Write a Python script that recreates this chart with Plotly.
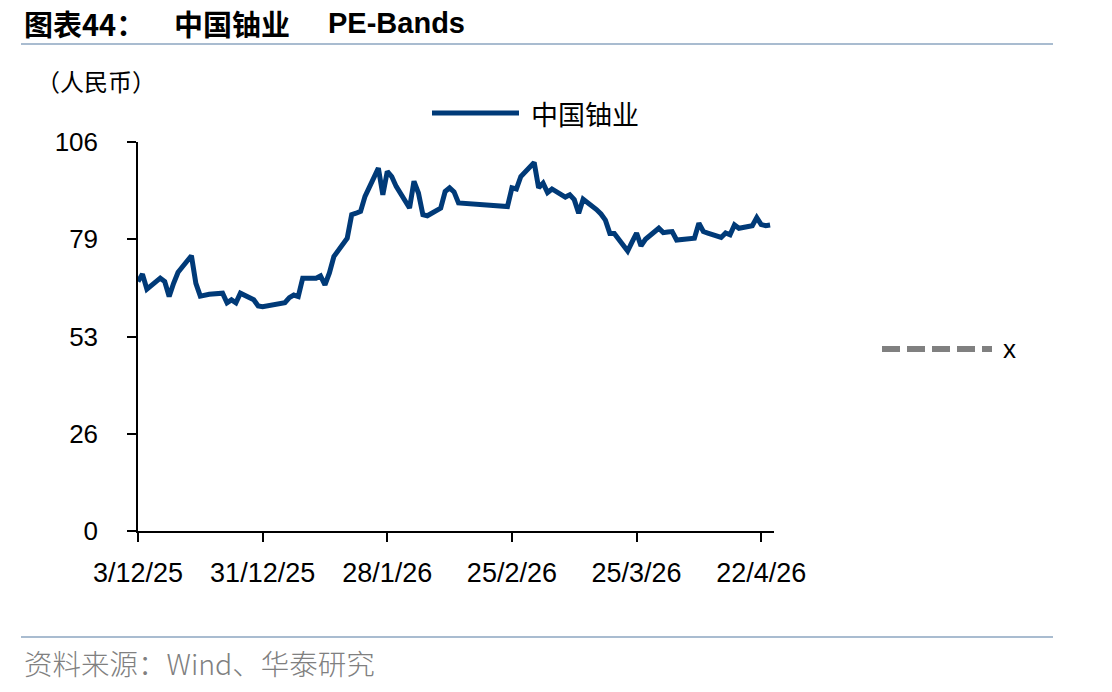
import plotly.graph_objects as go

# ---------------- data ----------------
dates = [
    "2025-12-03", "2025-12-04", "2025-12-05", "2025-12-08", "2025-12-09", "2025-12-10",
    "2025-12-11", "2025-12-12", "2025-12-15", "2025-12-16", "2025-12-17", "2025-12-18",
    "2025-12-19", "2025-12-22", "2025-12-23", "2025-12-24", "2025-12-25", "2025-12-26",
    "2025-12-29", "2025-12-30", "2025-12-31", "2026-01-05", "2026-01-06", "2026-01-07",
    "2026-01-08", "2026-01-09", "2026-01-12", "2026-01-13", "2026-01-14", "2026-01-15",
    "2026-01-16", "2026-01-19", "2026-01-20", "2026-01-21", "2026-01-22", "2026-01-23",
    "2026-01-26", "2026-01-27", "2026-01-28", "2026-01-29", "2026-01-30", "2026-02-02",
    "2026-02-03", "2026-02-04", "2026-02-05", "2026-02-06", "2026-02-09", "2026-02-10",
    "2026-02-11", "2026-02-12", "2026-02-13", "2026-02-24", "2026-02-25", "2026-02-26",
    "2026-02-27", "2026-03-02", "2026-03-03", "2026-03-04", "2026-03-05", "2026-03-06",
    "2026-03-09", "2026-03-10", "2026-03-11", "2026-03-12", "2026-03-13", "2026-03-16",
    "2026-03-17", "2026-03-18", "2026-03-19", "2026-03-20", "2026-03-23", "2026-03-24",
    "2026-03-25", "2026-03-26", "2026-03-27", "2026-03-30", "2026-03-31", "2026-04-01",
    "2026-04-02", "2026-04-03", "2026-04-07", "2026-04-08", "2026-04-09", "2026-04-10",
    "2026-04-13", "2026-04-14", "2026-04-15", "2026-04-16", "2026-04-17", "2026-04-20",
    "2026-04-21", "2026-04-22", "2026-04-23", "2026-04-24",
]
uranium = [
    68.0, 70.0, 65.9, 68.9, 68.0, 63.9,
    67.5, 70.5, 75.0, 67.5, 64.0, 64.3,
    64.5, 64.8, 62.2, 63.0, 62.2, 64.8,
    63.0, 61.3, 61.1, 62.2, 63.6, 64.3,
    63.9, 68.9, 68.9, 69.5, 67.1, 70.3,
    74.8, 79.8, 86.2, 86.6, 87.1, 91.2,
    98.9, 91.6, 98.0, 96.6, 93.9, 88.0,
    95.3, 92.1, 86.2, 85.9, 88.0, 92.5,
    93.5, 92.4, 89.4, 88.4, 93.5, 93.2,
    96.6, 100.4, 93.5, 94.8, 92.2, 93.2,
    91.0, 91.6, 90.3, 86.6, 90.4, 87.6,
    86.4, 84.7, 81.1, 81.1, 76.3, 78.8,
    81.2, 77.7, 79.5, 82.5, 81.3, 81.5,
    81.6, 79.3, 79.8, 83.9, 81.6, 81.2,
    80.0, 81.2, 80.7, 83.4, 82.5, 83.2,
    85.4, 83.5, 83.2, 83.4,
]
series_name = "中国铀业"
second_name = "x"
y_tickvals = [0, 26.5, 53, 79.5, 106]
y_ticktext = ["0", "26", "53", "79", "106"]
x_tickvals = ["2025-12-03", "2025-12-31", "2026-01-28", "2026-02-25", "2026-03-25", "2026-04-22"]
x_ticktext = ["3/12/25", "31/12/25", "28/1/26", "25/2/26", "25/3/26", "22/4/26"]
title_parts = ["图表44：", "中国铀业", "PE-Bands"]
unit_label = "（人民币）"
source_text = "资料来源：Wind、华泰研究"

# ---------------- layout geometry ----------------
W, H = 1112, 692
L, R, T, B = 138, 338, 142, 161
PW, PH = W - L - R, H - T - B

def px(x):
    return (x - L) / PW

def py(y):
    return (H - B - y) / PH

BLUE = "#003a78"
GREY = "#808080"
RULE = "#a9bcd0"
CJK = "Noto Sans CJK SC, sans-serif"
LAT = "Liberation Sans, Arial, sans-serif"

fig = go.Figure()
fig.add_trace(go.Scatter(
    x=dates, y=uranium, mode="lines", name=series_name,
    line=dict(color=BLUE, width=5), showlegend=False,
))

fig.update_layout(
    width=W, height=H,
    margin=dict(l=L, r=R, t=T, b=B, autoexpand=False),
    paper_bgcolor="white", plot_bgcolor="white",
    showlegend=False,
    xaxis=dict(
        type="date", range=["2025-12-03", "2026-04-24 21:00"],
        tickvals=x_tickvals, ticktext=x_ticktext,
        showline=True, linecolor="black", linewidth=1.5,
        ticks="outside", ticklen=9, tickwidth=1.5, tickcolor="black",
        showgrid=False, zeroline=False,
        tickfont=dict(family=LAT, size=27, color="black"),
        ticklabelstandoff=8,
    ),
    yaxis=dict(
        range=[0, 106], tickvals=y_tickvals, ticktext=y_ticktext,
        showline=True, linecolor="black", linewidth=1.5,
        ticks="outside", ticklen=9, tickwidth=1.5, tickcolor="black",
        showgrid=False, zeroline=False,
        tickfont=dict(family=LAT, size=26, color="black"),
        ticklabelstandoff=24,
    ),
)

ann = []
# title pieces
ann.append(dict(x=px(22), y=py(23), text="<b>%s</b>" % title_parts[0], xanchor="left", yanchor="middle",
                font=dict(family=CJK, size=29, color="black")))
ann.append(dict(x=px(172), y=py(23), text="<b>%s</b>" % title_parts[1], xanchor="left", yanchor="middle",
                font=dict(family=CJK, size=29, color="black")))
ann.append(dict(x=px(326), y=py(23), text="<b>%s</b>" % title_parts[2], xanchor="left", yanchor="middle",
                font=dict(family=LAT, size=29, color="black")))
# unit label
ann.append(dict(x=px(34), y=py(81), text=unit_label, xanchor="left", yanchor="middle",
                font=dict(family=CJK, size=24, color="black")))
# legend texts
ann.append(dict(x=px(529), y=py(113), text=series_name, xanchor="left", yanchor="middle",
                font=dict(family=CJK, size=27, color="black")))
ann.append(dict(x=px(1001), y=py(349), text=second_name, xanchor="left", yanchor="middle",
                font=dict(family=LAT, size=26, color="black")))
# source
ann.append(dict(x=px(22), y=py(662), text=source_text, xanchor="left", yanchor="middle",
                font=dict(family=CJK, size=28.5, color=GREY, weight=300)))
for a in ann:
    a.update(xref="paper", yref="paper", showarrow=False)
fig.update_layout(annotations=ann)

shapes = [
    dict(type="line", xref="paper", yref="paper", x0=px(21), x1=px(1053), y0=py(44), y1=py(44),
         line=dict(color=RULE, width=2)),
    dict(type="line", xref="paper", yref="paper", x0=px(21), x1=px(1053), y0=py(637), y1=py(637),
         line=dict(color=RULE, width=2)),
    dict(type="line", xref="paper", yref="paper", x0=px(432), x1=px(519), y0=py(113), y1=py(113),
         line=dict(color=BLUE, width=5)),
    dict(type="line", xref="paper", yref="paper", x0=px(882), x1=px(992), y0=py(349), y1=py(349),
         line=dict(color=GREY, width=6, dash="18px,7px")),
]
fig.update_layout(shapes=shapes)

fig.write_html("out.html")
